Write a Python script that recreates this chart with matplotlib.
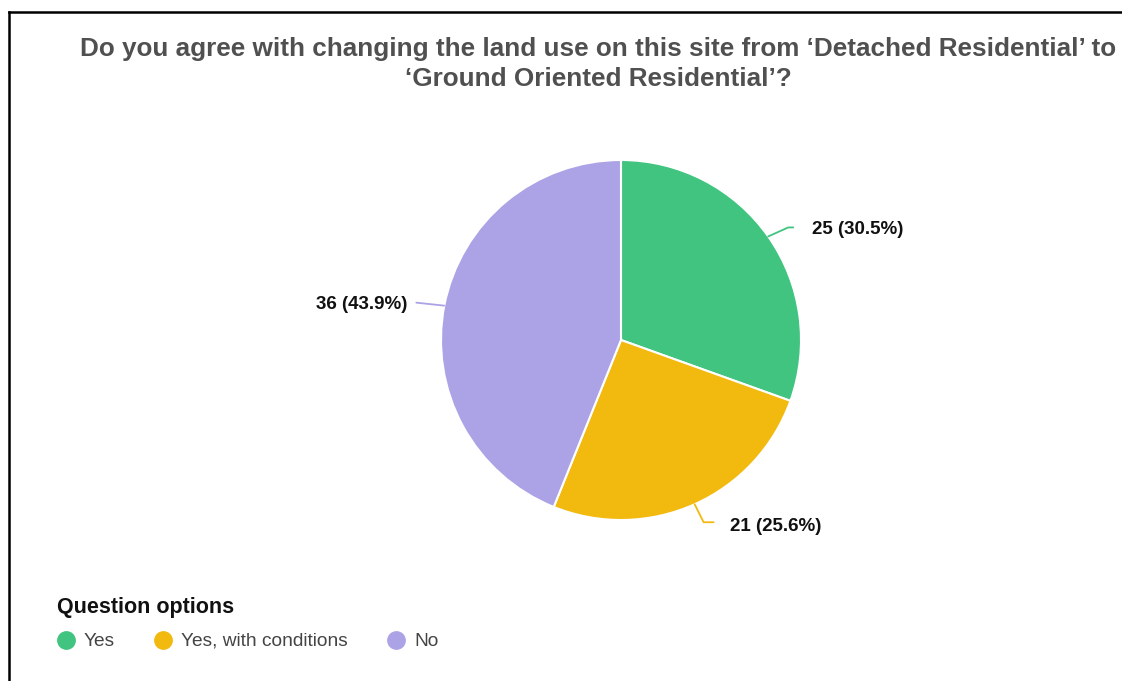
import numpy as np
import matplotlib
matplotlib.use("Agg")
import matplotlib.pyplot as plt
from matplotlib.lines import Line2D

plt.rcParams['font.family'] = ['Liberation Sans', 'DejaVu Sans']

# ---- data ----
categories = ["Yes", "Yes, with conditions", "No"]
counts = [25, 21, 36]
percents = [30.5, 25.6, 43.9]
colors = ["#40C47F", "#F2B90F", "#ABA3E6"]
title = "Do you agree with changing the land use on this site from \u2018Detached Residential\u2019 to\n\u2018Ground Oriented Residential\u2019?"
legend_title = "Question options"

W, H = 1122, 681
fig = plt.figure(figsize=(W / 100, H / 100), dpi=100)
fig.patch.set_facecolor("white")

# pie geometry (pixels)
CX, CY, R = 621, 340, 180

ax = fig.add_axes([0, 0, 1, 1])
ax.set_xlim((0 - CX) / R, (W - CX) / R)
ax.set_ylim((CY - H) / R, CY / R)
ax.set_aspect('equal')
ax.axis('off')

wedges, _ = ax.pie(counts, colors=colors, startangle=90, counterclock=False,
                   radius=1.0, center=(0, 0),
                   wedgeprops=dict(edgecolor="white", linewidth=1.5))
ax.set_xlim((0 - CX) / R, (W - CX) / R)
ax.set_ylim((CY - H) / R, CY / R)


def px(x, y):
    return ((x - CX) / R, (CY - y) / R)

# label layout: anchor angle on the rim (deg), knee offset, end offset (pixels), text offset
total = sum(counts)
angles = []
a = 90.0
for c in counts:
    span = 360.0 * c / total
    angles.append(a - span / 2)
    a -= span
angles[2] = 169.0  # label placed to the left for "No"

knees = [(20, -9), (9, 18), (-28, -3)]
ends = [(25, -9), (19, 18), (-28, -3)]
side = [1, 1, -1]
text_gap = [19, 16, 9]

for i, (ang, col) in enumerate(zip(angles, colors)):
    sx = CX + R * np.cos(np.radians(ang))
    sy = CY - R * np.sin(np.radians(ang))
    kx, ky = sx + knees[i][0], sy + knees[i][1]
    ex, ey = sx + ends[i][0], sy + ends[i][1]
    pts = [px(sx, sy), px(kx, ky), px(ex, ey)]
    ax.plot([p[0] for p in pts], [p[1] for p in pts], color=col, lw=1.3,
            solid_capstyle='round')
    tx = ex + text_gap[i] * side[i]
    ty = ey + (4 if i == 1 else 2)
    ax.text(*px(tx, ty), f"{counts[i]} ({percents[i]}%)",
            ha='left' if side[i] > 0 else 'right', va='center',
            fontsize=13.5, fontweight='bold', color="#111111")

# title
fig.text(598 / W, 1 - 64 / H, title, ha='center', va='center', fontsize=18.8,
         fontweight='bold', color="#505050", linespacing=1.28)

# legend
fig.text(57 / W, 1 - 607 / H, legend_title, ha='left', va='center',
         fontsize=15.5, fontweight='bold', color="#111111")
leg_x = [66, 163, 396]
for lx, lab, col in zip(leg_x, categories, colors):
    fig.add_artist(Line2D([lx / W], [1 - 640 / H], marker='o', markersize=12.5,
                          markerfacecolor=col, markeredgecolor=col, linestyle='none'))
    fig.text((lx + 18) / W, 1 - 641.5 / H, lab, ha='left', va='center',
             fontsize=13.8, color="#444444")

# frame lines (left and top)
fig.add_artist(Line2D([8.5 / W, 8.5 / W], [0, 1 - 11.5 / H], color='black', lw=1.8))
fig.add_artist(Line2D([8.5 / W, 1], [1 - 11.5 / H, 1 - 11.5 / H], color='black', lw=1.8))

fig.savefig("out.png", dpi=100, facecolor="white")
